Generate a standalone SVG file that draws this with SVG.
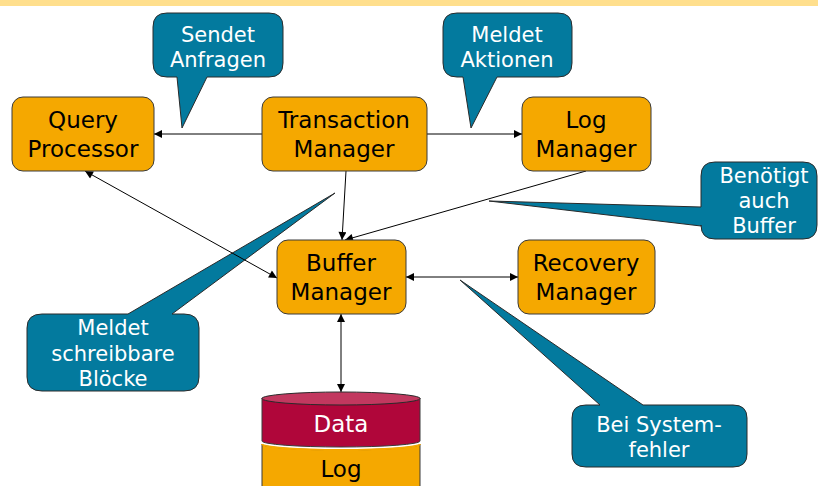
<svg xmlns="http://www.w3.org/2000/svg" width="818" height="486" viewBox="0 0 818 486">
<defs>
<style>
.box{fill:#F5A800;stroke:#3a3a3a;stroke-width:1}
.call{fill:#037A9E;stroke:#2a2a2a;stroke-width:1}
.t{font-family:"DejaVu Sans",Verdana,sans-serif;font-size:23px;fill:#000;text-anchor:middle}
.ct{font-family:"DejaVu Sans",Verdana,sans-serif;font-size:21px;fill:#fff;text-anchor:middle}
.ln{stroke:#000;stroke-width:1;fill:none}
</style>
<marker id="ah" viewBox="0 0 10 10" refX="10" refY="5" markerWidth="10" markerHeight="8" markerUnits="userSpaceOnUse" orient="auto-start-reverse">
<path d="M0,0 L10,5 L0,10 Z" fill="#000"/>
</marker>
</defs>
<rect x="0" y="0" width="818" height="6" fill="#FFDF8D"/>

<g id="callout-sendet">
<path class="call" d="M167,13 H269 Q283,13 283,27 V63 Q283,77 269,77 H207 L182,128 L177,77 H167 Q153,77 153,63 V27 Q153,13 167,13 Z"/>
<text class="ct" x="218" y="42">Sendet</text>
<text class="ct" x="218" y="67">Anfragen</text>
</g>
<g id="callout-meldet-aktionen">
<path class="call" d="M457,13 H558 Q572,13 572,27 V63 Q572,77 558,77 H497 L471,128 L463,77 H457 Q443,77 443,63 V27 Q443,13 457,13 Z"/>
<text class="ct" x="507" y="42">Meldet</text>
<text class="ct" x="507" y="67">Aktionen</text>
</g>
<g id="callout-benoetigt">
<path class="call" d="M715,162 H803 Q817,162 817,176 V225 Q817,239 803,239 H715 Q701,239 701,225 V226 L489,201 L701,207 V176 Q701,162 715,162 Z"/>
<text class="ct" x="764" y="183">Benötigt</text>
<text class="ct" x="764" y="208">auch</text>
<text class="ct" x="764" y="233">Buffer</text>
</g>
<g id="callout-meldet-bloecke">
<path class="call" d="M42,314 H128 L335,193 L172,314 H184 Q199,314 199,328 V377 Q199,391 184,391 H42 Q27,391 27,377 V328 Q27,314 42,314 Z"/>
<text class="ct" x="113" y="335">Meldet</text>
<text class="ct" x="113" y="361">schreibbare</text>
<text class="ct" x="113" y="386">Blöcke</text>
</g>
<g id="callout-systemfehler">
<path class="call" d="M586,405 H600 L460,280 L643,405 H733 Q747,405 747,418 V454 Q747,467 733,467 H586 Q572,467 572,454 V418 Q572,405 586,405 Z"/>
<text class="ct" x="659" y="432">Bei System-</text>
<text class="ct" x="659" y="457">fehler</text>
</g>

<g id="connectors">
<line class="ln" x1="262" y1="134" x2="154" y2="134" marker-end="url(#ah)"/>
<line class="ln" x1="427" y1="134" x2="522" y2="134" marker-end="url(#ah)"/>
<line class="ln" x1="346" y1="171" x2="342" y2="240" marker-end="url(#ah)"/>
<line class="ln" x1="586" y1="171" x2="345" y2="240" marker-end="url(#ah)"/>
<line class="ln" x1="85" y1="171" x2="277" y2="278" marker-start="url(#ah)" marker-end="url(#ah)"/>
<line class="ln" x1="406" y1="277" x2="518" y2="277" marker-start="url(#ah)" marker-end="url(#ah)"/>
<line class="ln" x1="341" y1="314" x2="341" y2="392" marker-start="url(#ah)" marker-end="url(#ah)"/>
</g>

<g id="query-processor">
<rect class="box" x="12" y="97" width="142" height="74" rx="11"/>
<text class="t" x="83" y="128">Query</text>
<text class="t" x="83" y="157">Processor</text>
</g>
<g id="transaction-manager">
<rect class="box" x="262" y="97" width="165" height="74" rx="11"/>
<text class="t" x="344" y="128">Transaction</text>
<text class="t" x="344" y="157">Manager</text>
</g>
<g id="log-manager">
<rect class="box" x="522" y="97" width="129" height="74" rx="11"/>
<text class="t" x="586" y="128">Log</text>
<text class="t" x="586" y="157">Manager</text>
</g>
<g id="buffer-manager">
<rect class="box" x="277" y="240" width="129" height="74" rx="11"/>
<text class="t" x="341" y="271">Buffer</text>
<text class="t" x="341" y="300">Manager</text>
</g>
<g id="recovery-manager">
<rect class="box" x="518" y="240" width="137" height="74" rx="11"/>
<text class="t" x="586" y="271">Recovery</text>
<text class="t" x="586" y="300">Manager</text>
</g>
<g id="storage">
<path d="M262,444 A79,6 0 0 0 420,444 V492 H262 Z" fill="#F5A800" stroke="#3a3a3a" stroke-width="1"/>
<path d="M262,444 A79,6 0 0 0 420,444" fill="none" stroke="#F5A800" stroke-width="2"/>
<path d="M262,398 V441 A79,6 0 0 0 420,441 V398 Z" fill="#B0063A" stroke="#3a3a3a" stroke-width="1"/>
<ellipse cx="341" cy="398.5" rx="79" ry="6.5" fill="#C2385F" stroke="#2a2a2a" stroke-width="1"/>
<text class="t" x="341" y="432" style="fill:#fff">Data</text>
<text class="t" x="341" y="477">Log</text>
</g>
</svg>
